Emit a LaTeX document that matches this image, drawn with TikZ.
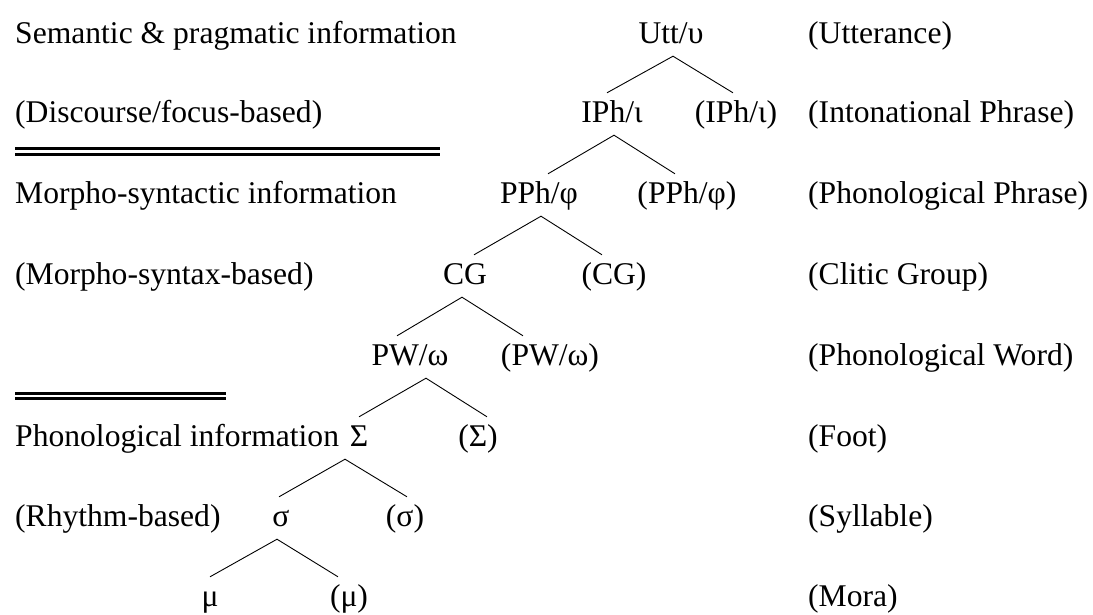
\documentclass[tikz,border=0pt]{standalone}
\usepackage{fontspec}
\setmainfont{Liberation Serif}
\begin{document}
\begin{tikzpicture}[x=1pt,y=-1pt,
  every node/.style={font=\fontsize{31.6}{36}\selectfont},
  lbl/.style={inner sep=0pt, anchor=base west},
  tn/.style={inner sep=0pt, text height=29pt, text depth=13pt, anchor=base},
  branch/.style={line width=0.9pt},
  rule/.style={line width=2.9pt}]
\useasboundingbox (0,0) rectangle (1093,614);

% level labels on the left
\node[lbl] (l1) at (15,43)  {Semantic \& pragmatic information};
\node[lbl] (l2) at (15,122) {(Discourse/focus-based)};
\node[lbl] (l3) at (15,203) {Morpho-syntactic information};
\node[lbl] (l4) at (15,284) {(Morpho-syntax-based)};
\node[lbl] (l6) at (15,446) {Phonological information};
\node[lbl] (l7) at (15,526) {(Rhythm-based)};

% separators
\draw[rule] (15,148.8) -- (440,148.8);
\draw[rule] (15,154.6) -- (440,154.6);
\draw[rule] (15,393.3) -- (226,393.3);
\draw[rule] (15,398.8) -- (226,398.8);

% prosodic hierarchy
\node[tn] (utt)  at (671,43)  {Utt/υ};
\node[tn] (iph)  at (612,122) {IPh/ι};
\node[tn] (iph2) at (736,122) {(IPh/ι)};
\node[tn] (pph)  at (539,203) {PPh/φ};
\node[tn] (pph2) at (687,203) {(PPh/φ)};
\node[tn] (cg)   at (465,284) {CG};
\node[tn] (cg2)  at (614,284) {(CG)};
\node[tn] (pw)   at (410,365) {PW/ω};
\node[tn] (pw2)  at (550,365) {(PW/ω)};
\node[tn] (ft)   at (359,446) {Σ};
\node[tn] (ft2)  at (478,446) {(Σ)};
\node[tn] (syl)  at (281,526) {σ};
\node[tn] (syl2) at (405,526) {(σ)};
\node[tn] (mu)   at (210,606) {μ};
\node[tn] (mu2)  at (349,606) {(μ)};

\draw[branch] ([xshift=-5pt]iph.north) -- ([xshift=2pt]utt.south) -- ([xshift=-3pt]iph2.north);
\draw[branch] ([xshift=9pt]pph.north) -- ([xshift=2pt]iph.south) -- ([xshift=-12pt]pph2.north);
\draw[branch] ([xshift=9pt]cg.north) -- ([xshift=2pt]pph.south) -- ([xshift=-12pt]cg2.north);
\draw[branch] ([xshift=-13pt]pw.north) -- ([xshift=-3pt]cg.south) -- ([xshift=-27pt]pw2.north);
\draw[branch] (ft.north) -- ([xshift=16pt]pw.south) -- ([xshift=9pt]ft2.north);
\draw[branch] ([xshift=-2pt]syl.north) -- ([xshift=-14pt]ft.south) -- ([xshift=2pt]syl2.north);
\draw[branch] (mu.north) -- ([xshift=-4pt]syl.south) -- ([xshift=-11pt]mu2.north);

% level names on the right
\node[lbl] (r1) at (808,43)  {(Utterance)};
\node[lbl] (r2) at (808,122) {(Intonational Phrase)};
\node[lbl] (r3) at (808,203) {(Phonological Phrase)};
\node[lbl] (r4) at (808,284) {(Clitic Group)};
\node[lbl] (r5) at (808,365) {(Phonological Word)};
\node[lbl] (r6) at (808,446) {(Foot)};
\node[lbl] (r7) at (808,526) {(Syllable)};
\node[lbl] (r8) at (808,606) {(Mora)};
\end{tikzpicture}
\end{document}
